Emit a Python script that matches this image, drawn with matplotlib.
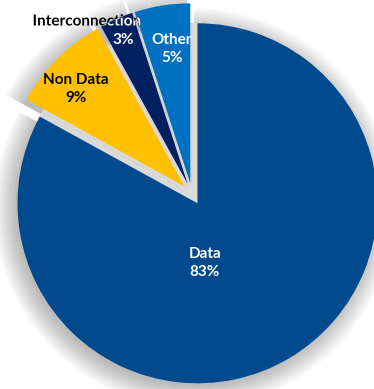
import matplotlib.pyplot as plt
from matplotlib.patches import PathPatch
from matplotlib.textpath import TextPath
from matplotlib.font_manager import FontProperties
from matplotlib.transforms import Affine2D

# datos del gráfico
labels = ['Data', 'Non Data', 'Interconnection', 'Other']
values = [83, 9, 3, 5]
colors = ['#004A8D', '#FFC000', '#002060', '#0070C0']
explode = [0.06, 0.06, 0.06, 0.06]

# escala: pixel -> unidades del pie (centro en 192,194 px, radio 180 px)
CX, CY, R = 192, 194, 180


def px(x, y):
    return (x - CX) / R, (CY - y) / R


fig = plt.figure(figsize=(3.74, 3.89), dpi=100)
ax = fig.add_axes([0, 0, 1, 1])

# sombra difusa detrás del pie
for i in range(12):
    ax.pie(values, explode=explode, startangle=90, counterclock=False,
           radius=0.99 + 0.011 * i, center=(-0.02, -0.025),
           colors=['#000000'] * len(values),
           wedgeprops=dict(alpha=0.022, linewidth=0))
# fondo gris visible entre las porciones
ax.pie(values, startangle=90, counterclock=False, radius=0.95,
       colors=['#D9D9D9'] * len(values), wedgeprops=dict(linewidth=0))

wedges, _ = ax.pie(values, explode=explode, startangle=90, counterclock=False,
                   colors=colors, wedgeprops=dict(linewidth=0))

font = dict(family=['Lato', 'DejaVu Sans'], fontweight='bold', fontsize=11,
            ha='center', va='center')

ax.text(*px(205, 263), 'Data\n83%', color='white', linespacing=1.3, **font)
ax.text(*px(76, 89), 'Non Data\n9%', color='black', linespacing=1.3, **font)
ax.text(*px(172, 49), 'Other\n5%', color='white', linespacing=1.3, **font)
ax.text(*px(123, 40), '3%', color='white', **font)

# etiqueta Interconnection: negra sobre el fondo, blanca sobre las porciones
fp = FontProperties(family='Lato', weight='bold')
size = 11 * 100 / 72 / R
tp = TextPath((0, 0), 'Interconnection', size=size, prop=fp)
bb = tp.get_extents()
x0, y0 = px(87, 20)
tr = Affine2D().translate(x0 - bb.width / 2 - bb.x0, y0 - size * 0.36)
tp = tr.transform_path(tp)
ax.add_patch(PathPatch(tp, fc='black', lw=0))
for w in wedges[2:]:
    p = ax.add_patch(PathPatch(tp, fc='white', lw=0))
    p.set_clip_path(w)

ax.set_xlim(px(0, 0)[0], px(374, 0)[0])
ax.set_ylim(px(0, 389)[1], px(0, 0)[1])
ax.set_aspect('auto')
ax.axis('off')

fig.savefig('out.png', dpi=100)
